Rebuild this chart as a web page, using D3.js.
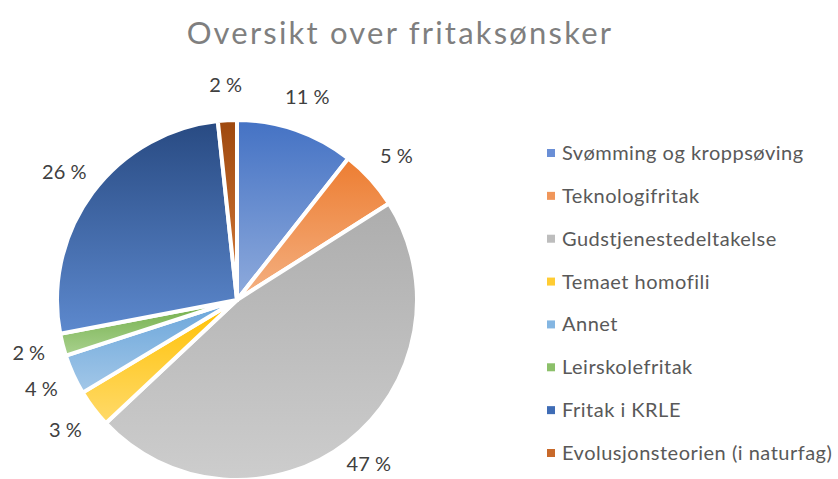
<!DOCTYPE html>
<html><head><meta charset="utf-8">
<script src="https://cdn.jsdelivr.net/npm/d3@7"></script>
<style>body{margin:0;background:#fff;} svg{display:block;}</style>
</head><body>
<svg id="chart" width="838" height="479"></svg>
<script>
const categories = ["Svømming og kroppsøving","Teknologifritak","Gudstjenestedeltakelse","Temaet homofili","Annet","Leirskolefritak","Fritak i KRLE","Evolusjonsteorien (i naturfag)"];
const values = [10.6, 5.4, 47.0, 3.4, 3.6, 2.0, 26.3, 1.7];
const topColors = ["#4472c4","#ed7d31","#adadad","#ffc000","#6aa5da","#70ad47","#284a82","#9e480e"];
const bottomColors = ["#8fabdc","#f4b183","#cdcdcd","#ffda6a","#a2c7e8","#a9d18e","#5d89ce","#d67c3c"];
const legendColors = ["#6a8fd6","#f0965a","#bdbdbd","#ffcc33","#84b6e2","#8cc06a","#3f6cb5","#c8692a"];
const title = "Oversikt over fritaksønsker";

const W = 838, H = 479;
const svg = d3.select("#chart");
const cx = 237, cy = 300, r = 180;
const defs = svg.append("defs");
categories.forEach((c,i)=>{
  const g = defs.append("linearGradient").attr("id","g"+i)
    .attr("x1",0).attr("y1",0).attr("x2",0).attr("y2",1);
  g.append("stop").attr("offset","0%").attr("stop-color",topColors[i]);
  g.append("stop").attr("offset","100%").attr("stop-color",bottomColors[i]);
});

svg.append("text").attr("x",400).attr("y",44).attr("text-anchor","middle")
  .attr("font-family","Lato").attr("font-size",31).attr("letter-spacing",2.2)
  .attr("fill","#7f7f7f").text(title);

const pie = d3.pie().sort(null).value(d=>d);
const arcs = pie(values);
const arc = d3.arc().innerRadius(0).outerRadius(r);
const g = svg.append("g").attr("transform",`translate(${cx},${cy})`);
g.selectAll("path").data(arcs).join("path")
  .attr("d",arc).attr("fill",(d,i)=>`url(#g${i})`)
  .attr("stroke","#fff").attr("stroke-width",4).attr("stroke-linejoin","round");

const labelR = 215;
g.selectAll("text.lbl").data(arcs).join("text").attr("class","lbl")
  .attr("x",d=>{const a=(d.startAngle+d.endAngle)/2; return Math.sin(a)*labelR;})
  .attr("y",d=>{const a=(d.startAngle+d.endAngle)/2; return Math.min(-Math.cos(a)*labelR, H - 15 - cy);})
  .attr("text-anchor","middle").attr("dy","0.35em")
  .attr("font-family","Lato").attr("font-size",20).attr("fill","#404040")
  .text(d=>Math.round(d.data)+" %");

const leg = svg.append("g");
const rowY = d3.scalePoint().domain(categories).range([153,453]);
const item = leg.selectAll("g").data(categories).join("g")
  .attr("transform",d=>`translate(547,${rowY(d)})`);
item.append("rect").attr("x",0).attr("y",-4).attr("width",8).attr("height",8)
  .attr("fill",(d,i)=>legendColors[i]);
item.append("text").attr("x",15).attr("y",0).attr("dy","0.35em")
  .attr("font-family","Lato").attr("font-size",20).attr("letter-spacing",0.5)
  .attr("fill","#595959").text(d=>d);
</script>
</body></html>
